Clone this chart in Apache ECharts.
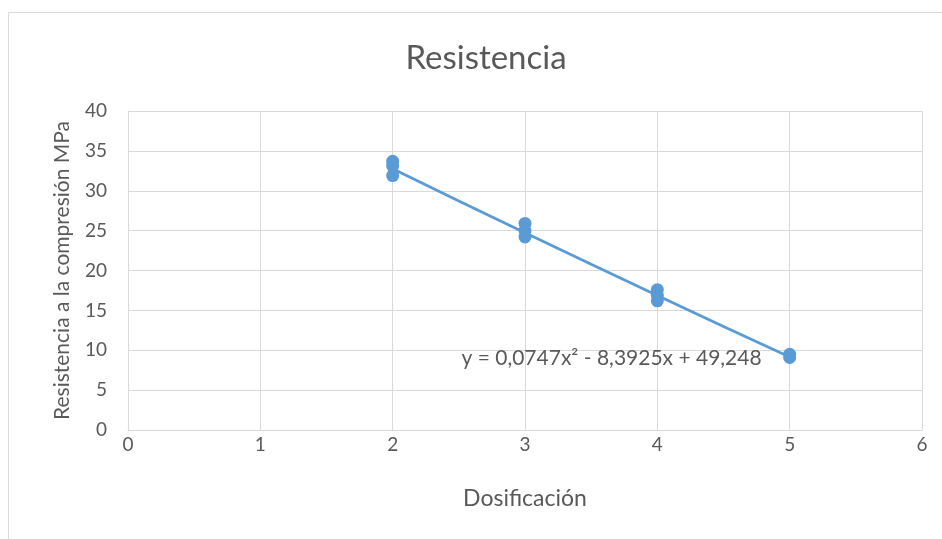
<!DOCTYPE html>
<html><head><meta charset="utf-8">
<script src="https://cdn.jsdelivr.net/npm/echarts@6/dist/echarts.min.js"></script>
<style>html,body{margin:0;padding:0;background:#fff}#c{width:942px;height:539px}</style>
</head><body><div id="c"></div>
<script>
const titleText = "Resistencia";
const xAxisName = "Dosificación";
const yAxisName = "Resistencia a la compresión MPa";
const dosificacion = [2, 2, 2, 3, 3, 3, 4, 4, 4, 5, 5];
const resistencia = [33.7, 33.1, 31.9, 25.9, 25.0, 24.2, 17.6, 16.9, 16.2, 9.5, 9.1];
const trendX = [2, 2.5, 3, 3.5, 4, 4.5, 5];
const trendY = [32.76, 28.71, 24.74, 20.77, 16.87, 12.97, 9.15];
const equationText = "y = 0,0747x² - 8,3925x + 49,248";
const equationPos = [2.52, 9.0];

const font = "Lato, 'Open Sans', sans-serif";
const grey = "#595959";
const chart = echarts.init(document.getElementById('c'), null, {renderer: 'canvas'});
chart.setOption({
  animation: false,
  title: {text: titleText, left: 481, top: 37, textAlign: 'center',
    textStyle: {fontFamily: font, fontSize: 33, fontWeight: 'normal', color: grey}},
  grid: {left: 128, right: 20, top: 111, bottom: 109},
  xAxis: {type: 'value', min: 0, max: 6, interval: 1,
    name: xAxisName, nameLocation: 'middle', nameGap: 57,
    nameTextStyle: {fontFamily: font, fontSize: 23, color: grey},
    axisLine: {show: true, lineStyle: {color: '#D9D9D9'}}, axisTick: {show: false},
    axisLabel: {fontFamily: font, fontSize: 19, color: grey, margin: 5},
    splitLine: {show: true, lineStyle: {color: '#D9D9D9'}}},
  yAxis: {type: 'value', min: 0, max: 40, interval: 5,
    name: yAxisName, nameLocation: 'middle', nameGap: 55, nameRotate: 90,
    nameTextStyle: {fontFamily: font, fontSize: 21, color: grey},
    axisLine: {show: true, lineStyle: {color: '#D9D9D9'}}, axisTick: {show: false},
    axisLabel: {fontFamily: font, fontSize: 19, color: grey, margin: 21},
    splitLine: {show: true, lineStyle: {color: '#D9D9D9'}}},
  series: [
    {type: 'line', data: trendX.map((x, i) => [x, trendY[i]]), showSymbol: false, smooth: false,
      lineStyle: {color: '#5B9BD5', width: 2.75}, z: 2},
    {type: 'scatter', data: dosificacion.map((x, i) => [x, resistencia[i]]), symbolSize: 13,
      itemStyle: {color: '#5B9BD5', opacity: 1}, z: 3}
  ]
});
const p = chart.convertToPixel({gridIndex: 0}, equationPos);
chart.setOption({graphic: [
  {type: 'rect', shape: {x: 8.5, y: 12.5, width: 1000, height: 600}, silent: true,
    style: {fill: 'none', stroke: '#D9D9D9', lineWidth: 1}, z: -10},
  {type: 'text', x: p[0], y: p[1], style: {text: equationText, fontFamily: font, fontSize: 21,
    fill: grey, textVerticalAlign: 'middle'}, z: 10}
]});
</script></body></html>
